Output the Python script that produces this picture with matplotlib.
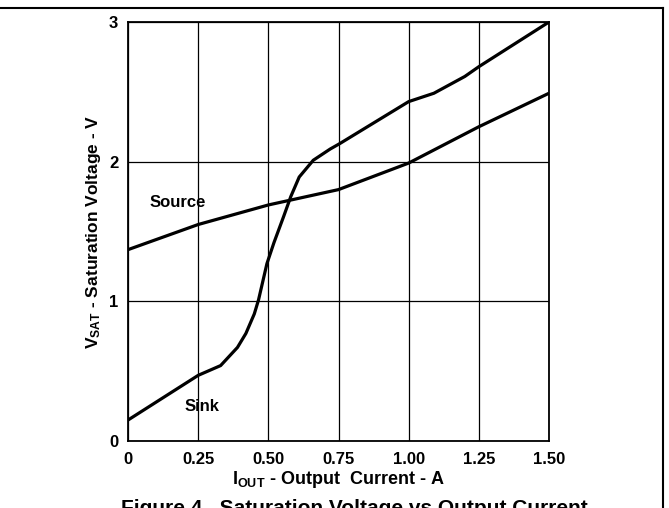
import matplotlib
matplotlib.use("Agg")
import matplotlib.pyplot as plt
from matplotlib.lines import Line2D

plt.rcParams['font.family'] = ['Liberation Sans', 'DejaVu Sans']
plt.rcParams['font.weight'] = 'bold'
plt.rcParams['mathtext.fontset'] = 'custom'
plt.rcParams['mathtext.rm'] = 'Liberation Sans:bold'
plt.rcParams['mathtext.it'] = 'Liberation Sans:bold'
plt.rcParams['mathtext.bf'] = 'Liberation Sans:bold'

sink_x = [0, 0.25, 0.33, 0.39, 0.42, 0.45, 0.465, 0.495, 0.52, 0.555, 0.58, 0.61, 0.66, 0.72, 0.755, 1.0, 1.09, 1.2, 1.25, 1.5]
sink_y = [0.15, 0.47, 0.54, 0.67, 0.77, 0.91, 1.01, 1.27, 1.42, 1.61, 1.75, 1.89, 2.01, 2.09, 2.13, 2.43, 2.49, 2.61, 2.68, 3.0]
source_x = [0, 0.25, 0.5, 0.75, 1.0, 1.25, 1.5]
source_y = [1.37, 1.55, 1.69, 1.80, 1.99, 2.25, 2.49]

x_ticks = [0, 0.25, 0.5, 0.75, 1.0, 1.25, 1.5]
x_tick_labels = ["0", "0.25", "0.50", "0.75", "1.00", "1.25", "1.50"]
y_ticks = [0, 1, 2, 3]
y_tick_labels = ["0", "1", "2", "3"]

fig = plt.figure(figsize = (6.69, 5.08), dpi = 100)
ax = fig.add_axes([128/669, 1 - 441/508, 421/669, 419/508])

ax.plot(sink_x, sink_y, color = "black", linewidth = 2.3, solid_capstyle = "butt")
ax.plot(source_x, source_y, color = "black", linewidth = 2.3, solid_capstyle = "butt")

ax.text(0.075, 1.71, "Source", fontsize = 12, fontweight = "bold", va = "center", ha = "left")
ax.text(0.2, 0.245, "Sink", fontsize = 12, fontweight = "bold", va = "center", ha = "left")

ax.set_xlim(0, 1.5)
ax.set_ylim(0, 3)
ax.set_xticks(x_ticks)
ax.set_xticklabels(x_tick_labels)
ax.set_yticks(y_ticks)
ax.set_yticklabels(y_tick_labels)
ax.tick_params(length = 0, labelsize = 12)
ax.tick_params(axis = "x", pad = 8)
ax.tick_params(axis = "y", pad = 7)
ax.grid(True, color = "black", linewidth = 0.9)
for s in ax.spines.values():
    s.set_linewidth(1.3)

ax.set_xlabel(r"I$_{\rm OUT}$ - Output  Current - A", fontsize = 13, fontweight = "bold", labelpad = 1)
ax.set_ylabel(r"V$_{\rm SAT}$ - Saturation Voltage - V", fontsize = 12.5, fontweight = "bold", labelpad = 4)

fig.text(354/669, 1 - 499/508, "Figure 4.  Saturation Voltage vs Output Current", fontsize = 15, fontweight = "bold", ha = "center", va = "top")

# page frame pieces
fig.add_artist(Line2D([0, 663/669], [1 - 8/508, 1 - 8/508], color = "black", linewidth = 1.5, transform = fig.transFigure))
fig.add_artist(Line2D([663/669, 663/669], [1 - 8/508, 0], color = "black", linewidth = 1.5, transform = fig.transFigure))

plt.savefig("out.png", format = "png", dpi = 100)
plt.close(fig)
